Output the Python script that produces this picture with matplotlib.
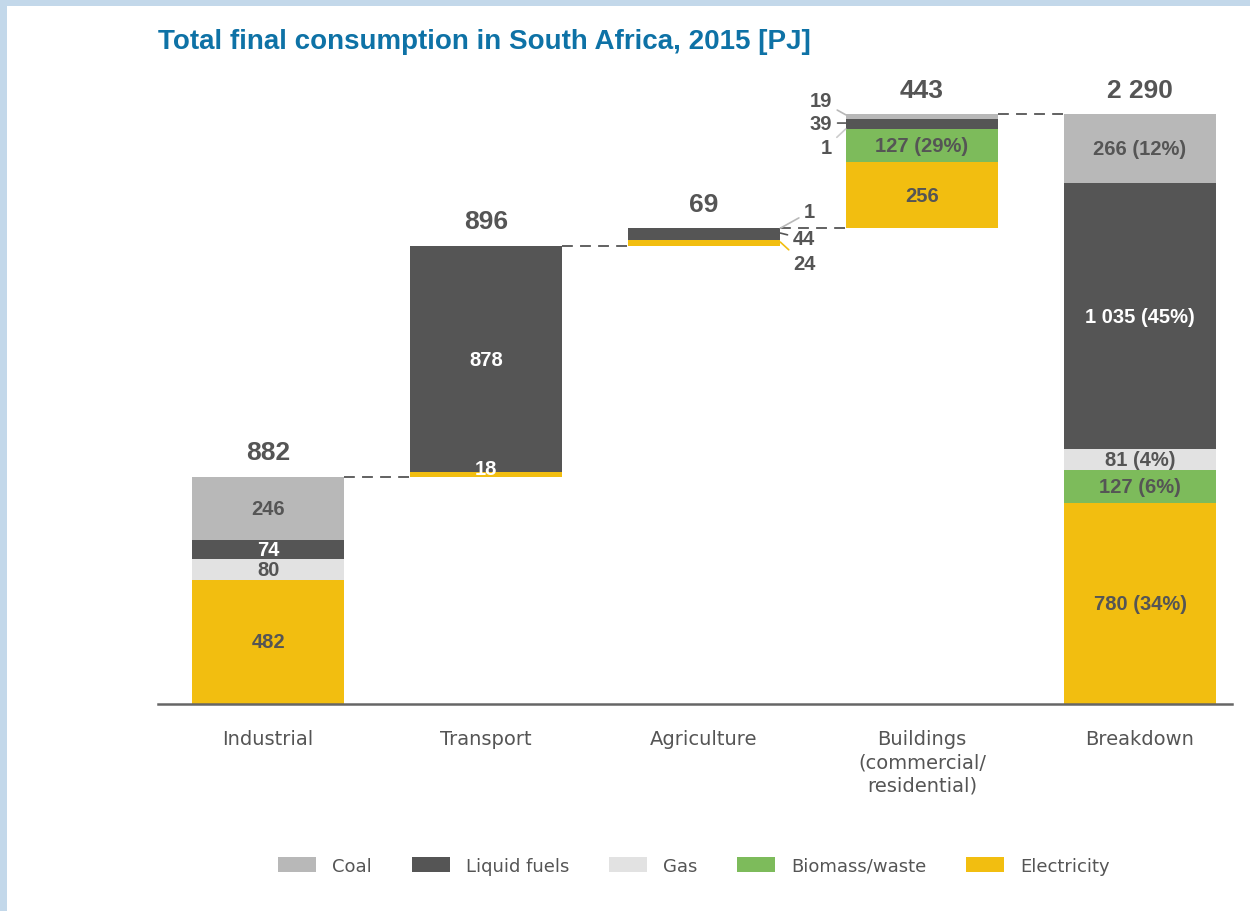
import matplotlib.pyplot as plt
from matplotlib.patches import Rectangle, Patch

# data (PJ)
sectors = ['Industrial', 'Transport', 'Agriculture', 'Buildings\n(commercial/\nresidential)', 'Breakdown']
fuels = ['Coal', 'Liquid fuels', 'Gas', 'Biomass/waste', 'Electricity']
colors = {'Coal': '#b8b8b8', 'Liquid fuels': '#555555', 'Gas': '#e2e2e2',
          'Biomass/waste': '#7dbb5b', 'Electricity': '#f2be10'}

# stack order bottom -> top
stack_order = ['Electricity', 'Biomass/waste', 'Gas', 'Liquid fuels', 'Coal']
industrial = {'Electricity': 482, 'Biomass/waste': 0, 'Gas': 80, 'Liquid fuels': 74, 'Coal': 246}
transport = {'Electricity': 18, 'Biomass/waste': 0, 'Gas': 0, 'Liquid fuels': 878, 'Coal': 0}
agriculture = {'Electricity': 24, 'Biomass/waste': 0, 'Gas': 0, 'Liquid fuels': 44, 'Coal': 1}
buildings = {'Electricity': 256, 'Biomass/waste': 127, 'Gas': 1, 'Liquid fuels': 39, 'Coal': 19}
breakdown = {'Electricity': 780, 'Biomass/waste': 127, 'Gas': 81, 'Liquid fuels': 1035, 'Coal': 266}
totals = ['882', '896', '69', '443', '2 290']
breakdown_labels = {'Electricity': '780 (34%)', 'Biomass/waste': '127 (6%)', 'Gas': '81 (4%)',
                    'Liquid fuels': '1 035 (45%)', 'Coal': '266 (12%)'}

bold = ['Liberation Sans', 'DejaVu Sans']
txt = '#555555'

fig = plt.figure(figsize=(12.5, 9.12), dpi=100)
fig.patch.set_facecolor('#c3d8ea')
fig.patches.append(Rectangle((7 / 1250, 0), 1 - 7 / 1250, 1 - 7 / 912,
                             transform=fig.transFigure, facecolor='white', edgecolor='none', zorder=-5))

ax = fig.add_axes([158 / 1250, 207 / 912, 1074 / 1250, 625 / 912])
ax.set_facecolor('none')

data = [industrial, transport, agriculture, buildings, breakdown]
w = 0.7
bases = []
base = 0
for i, d in enumerate(data):
    if i == 4:
        base = 0
    bases.append(base)
    b = base
    for f in stack_order:
        v = d[f]
        if v > 0:
            ax.bar(i, v, w, bottom=b, color=colors[f], linewidth=0)
        b += v
    if i < 4:
        base = b
tops = [bases[i] + sum(data[i].values()) for i in range(5)]

# connectors
for i in range(4):
    ax.plot([i + w / 2, i + 1 - w / 2], [tops[i], tops[i]], color='#555555',
            lw=1.3, ls=(0, (6, 4)))

# totals
for i in range(5):
    ax.annotate(totals[i], (i, tops[i]), xytext=(0, 9), textcoords='offset points',
                ha='center', va='bottom', fontsize=19, fontweight='bold', color=txt, family=bold)

# inside labels
def lab(i, f, s, color=txt, dy=0):
    d = data[i]
    b = bases[i]
    for g in stack_order:
        if g == f:
            break
        b += d[g]
    ax.text(i, b + d[f] / 2 + dy, s, ha='center', va='center', fontsize=14.5,
            fontweight='bold', color=color, family=bold)

lab(0, 'Coal', '246')
lab(0, 'Liquid fuels', '74', 'white')
lab(0, 'Gas', '80')
lab(0, 'Electricity', '482')
lab(1, 'Liquid fuels', '878', 'white')
lab(1, 'Electricity', '18', 'white', dy=25)
lab(3, 'Biomass/waste', '127 (29%)')
lab(3, 'Electricity', '256')
for f in stack_order:
    lab(4, f, breakdown_labels[f], 'white' if f == 'Liquid fuels' else txt)

# side labels with leader lines
def side(xy, xytext, s, color, ha):
    ax.annotate(s, xy, xytext=xytext, ha=ha, va='center', fontsize=14.5, fontweight='bold',
                color=txt, family=bold,
                arrowprops=dict(arrowstyle='-', color=color, lw=1.2, shrinkA=2, shrinkB=0))

right = 2 + w / 2
side((right, 1847), (2.459, 1910), '1', '#b8b8b8', 'left')
side((right, 1828), (2.408, 1805), '44', '#555555', 'left')
side((right, 1793), (2.408, 1708), '24', '#f2be10', 'left')
left = 3 - w / 2
side((left, 2287), (2.587, 2341), '19', '#b8b8b8', 'right')
side((left, 2255), (2.587, 2255), '39', '#555555', 'right')
side((left, 2232), (2.587, 2162), '1', '#cccccc', 'right')

ax.set_xlim(-0.505, 4.422)
ax.set_ylim(0, 2426)
ax.set_xticks(range(5))
ax.set_xticklabels(sectors, fontsize=14, color=txt, linespacing=1.3)
ax.tick_params(axis='x', length=0, pad=18)
ax.set_yticks([])
for s in ['top', 'right', 'left']:
    ax.spines[s].set_visible(False)
ax.spines['bottom'].set_color('#666666')
ax.spines['bottom'].set_linewidth(1.8)

fig.text(158 / 1250, 1 - 42 / 912, 'Total final consumption in South Africa, 2015 [PJ]',
         fontsize=20, fontweight='bold', color='#0e72a6', va='center', ha='left', family=bold)

handles = [Patch(facecolor=colors[f], edgecolor='none') for f in fuels]
leg = fig.legend(handles, fuels, loc='center', bbox_to_anchor=(694 / 1250, 1 - 867 / 912),
                 ncol=5, frameon=False, fontsize=13, handlelength=2.1, handleheight=0.9,
                 handletextpad=0.9, columnspacing=2.2)
for t in leg.get_texts():
    t.set_color(txt)

fig.savefig('out.png', dpi=100)
